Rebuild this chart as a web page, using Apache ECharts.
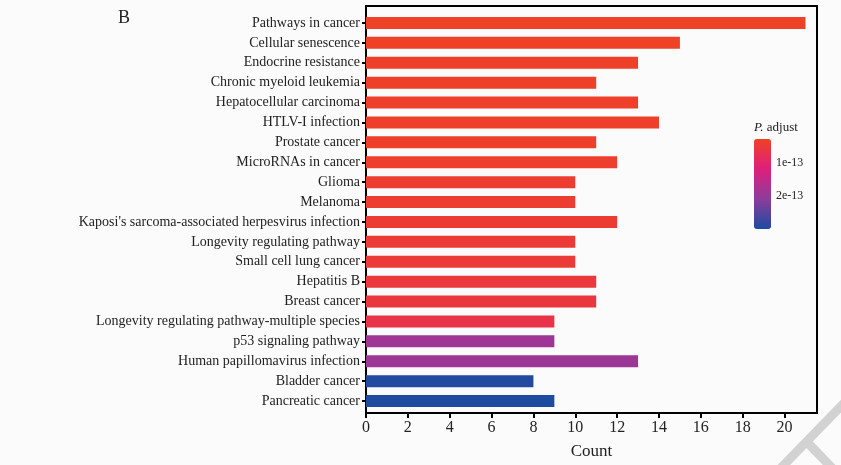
<!DOCTYPE html>
<html>
<head>
<meta charset="utf-8">
<script src="https://cdn.jsdelivr.net/npm/echarts@6/dist/echarts.min.js"></script>
<style>
html,body{margin:0;padding:0;background:#fbfbfb;}
#c{width:841px;height:465px;}
</style>
</head>
<body>
<div id="c"></div>
<script>
const categories = [
  "Pathways in cancer",
  "Cellular senescence",
  "Endocrine resistance",
  "Chronic myeloid leukemia",
  "Hepatocellular carcinoma",
  "HTLV-I infection",
  "Prostate cancer",
  "MicroRNAs in cancer",
  "Glioma",
  "Melanoma",
  "Kaposi's sarcoma-associated herpesvirus infection",
  "Longevity regulating pathway",
  "Small cell lung cancer",
  "Hepatitis B",
  "Breast cancer",
  "Longevity regulating pathway-multiple species",
  "p53 signaling pathway",
  "Human papillomavirus infection",
  "Bladder cancer",
  "Pancreatic cancer"
];
const counts = [21, 15, 13, 11, 13, 14, 11, 12, 10, 10, 12, 10, 10, 11, 11, 9, 9, 13, 8, 9];
const pAdjust = [2.7e-14, 2.8e-14, 3.0e-14, 3.0e-14, 3.2e-14, 3.3e-14, 3.3e-14, 3.5e-14, 3.8e-14, 3.8e-14,
                 4.2e-14, 4.5e-14, 4.6e-14, 5.2e-14, 5.3e-14, 6.5e-14, 1.88e-13, 1.90e-13, 2.95e-13, 3.0e-13];
const xTicks = [0, 2, 4, 6, 8, 10, 12, 14, 16, 18, 20];
const legendTicks = ["1e-13", "2e-13"];

const pMin = 2.7e-14, pMax = 3.0e-13;
const serif = "'Liberation Serif', 'DejaVu Serif', serif";
const txt = '#222';

const chart = echarts.init(document.getElementById('c'));
const data = counts.map((v, i) => [v, i, pAdjust[i]]);

// legend geometry
const lgLeft = 754, lgTop = 139, lgW = 17, lgH = 90;
const yOf = p => lgTop + (p - pMin) / (pMax - pMin) * lgH;

chart.setOption({
  backgroundColor: '#fbfbfb',
  animation: false,
  grid: [
    {left: 366, right: 24, top: 6, bottom: 47, show: true, borderColor: '#000', borderWidth: 2, backgroundColor: 'transparent'},
    {left: 366, right: 24, top: 13, bottom: 54}
  ],
  xAxis: [
    {gridIndex: 0, type: 'value', min: 0, max: 21.55,
     axisLine: {show: true, lineStyle: {color: '#000', width: 2}},
     axisTick: {show: true, length: 5, customValues: xTicks, lineStyle: {color: '#000', width: 2}},
     axisLabel: {color: txt, fontFamily: serif, fontSize: 16, margin: 7, customValues: xTicks},
     splitLine: {show: false},
     name: 'Count', nameLocation: 'middle', nameGap: 30,
     nameTextStyle: {color: txt, fontFamily: serif, fontSize: 17}},
    {gridIndex: 1, type: 'value', min: 0, max: 21.55, show: false}
  ],
  yAxis: [
    {gridIndex: 0, type: 'value', show: false},
    {gridIndex: 1, type: 'category', data: categories, inverse: true,
     axisLine: {show: false},
     axisTick: {show: true, alignWithLabel: true, length: 4, lineStyle: {color: '#000', width: 2}},
     axisLabel: {color: txt, fontFamily: serif, fontSize: 14, margin: 6}}
  ],
  visualMap: {
    type: 'continuous', dimension: 2, seriesIndex: 0,
    min: pMin, max: pMax, inverse: true, calculable: false,
    orient: 'vertical', left: lgLeft, top: lgTop, itemWidth: lgW, itemHeight: lgH,
    padding: 0, text: ['', ''], showLabel: false,
    inRange: {color: ['#ef4125', '#de1f7c', '#8c3d9c', '#1c4ba0']}
  },
  series: [{
    type: 'bar', xAxisIndex: 1, yAxisIndex: 1, data: data,
    encode: {x: 0, y: 1}, barWidth: 12
  }],
  graphic: [
    {type: 'text', left: 118, top: 9, style: {text: 'B', fontFamily: serif, fontSize: 18, fill: txt}},
    {type: 'text', left: 754, top: 121, style: {text: '{i|P.} adjust', fontFamily: serif, fontSize: 13, fill: txt,
      rich: {i: {fontStyle: 'italic', fontFamily: serif, fontSize: 13, fill: txt}}}},
    {type: 'line', shape: {x1: lgLeft + lgW - 3, y1: yOf(1e-13), x2: lgLeft + lgW, y2: yOf(1e-13)}, style: {stroke: '#fff', lineWidth: 1}},
    {type: 'line', shape: {x1: lgLeft + lgW - 3, y1: yOf(2e-13), x2: lgLeft + lgW, y2: yOf(2e-13)}, style: {stroke: '#fff', lineWidth: 1}},
    {type: 'text', x: lgLeft + lgW + 5, y: yOf(1e-13), style: {text: legendTicks[0], fontFamily: serif, fontSize: 12, fill: txt, verticalAlign: 'middle'}},
    {type: 'text', x: lgLeft + lgW + 5, y: yOf(2e-13), style: {text: legendTicks[1], fontFamily: serif, fontSize: 12, fill: txt, verticalAlign: 'middle'}},
    {type: 'line', shape: {x1: 779, y1: 470, x2: 845, y2: 402}, style: {stroke: '#d2d2d2', lineWidth: 9}, z: -1},
    {type: 'line', shape: {x1: 806, y1: 441, x2: 834, y2: 470}, style: {stroke: '#d2d2d2', lineWidth: 9}, z: -1}
  ]
});
</script>
</body>
</html>
